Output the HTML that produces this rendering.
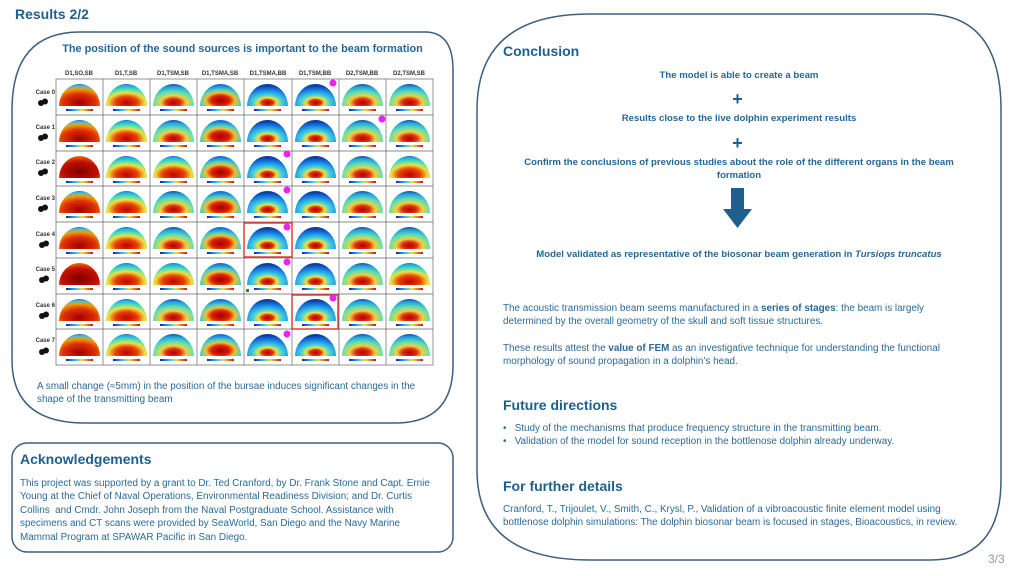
<!DOCTYPE html>
<html><head><meta charset="utf-8"><style>
body{margin:0;width:1023px;height:576px;background:#fff;position:relative;overflow:hidden;font-family:"Liberation Sans",sans-serif;color:#2a6a97}
.t{position:absolute;white-space:nowrap;font-size:9.9px;line-height:13.4px}
.h{position:absolute;white-space:nowrap;font-weight:bold;color:#1d5f8d}
.c{position:absolute;left:477px;width:524px;text-align:center;font-weight:bold;font-size:9.6px;color:#23689a;line-height:13px}
</style></head><body>
<svg width="1023" height="576" style="position:absolute;left:0;top:0">
<defs>
<linearGradient id="cb" x1="0" x2="1"><stop offset="0" stop-color="#1020c0"/><stop offset=".35" stop-color="#30c0f0"/><stop offset=".6" stop-color="#f0e040"/><stop offset="1" stop-color="#d01010"/></linearGradient>
<radialGradient id="rA" cx=".5" cy=".85" r=".9"><stop offset="0" stop-color="#a00000"/><stop offset=".45" stop-color="#e03000"/><stop offset=".7" stop-color="#f0a000"/><stop offset=".85" stop-color="#40c0e0"/><stop offset="1" stop-color="#1030a0"/></radialGradient>
<radialGradient id="rF" cx=".5" cy=".7" r=".9"><stop offset="0" stop-color="#800000"/><stop offset=".5" stop-color="#c01000"/><stop offset=".75" stop-color="#f06000"/><stop offset=".9" stop-color="#40c0e0"/><stop offset="1" stop-color="#1030a0"/></radialGradient>
<radialGradient id="rB" cx=".5" cy=".85" r=".9"><stop offset="0" stop-color="#c00000"/><stop offset=".3" stop-color="#e84000"/><stop offset=".5" stop-color="#f0e040"/><stop offset=".7" stop-color="#40e0c0"/><stop offset=".88" stop-color="#20a0e0"/><stop offset="1" stop-color="#1020a0"/></radialGradient>
<radialGradient id="rC" cx=".5" cy=".85" r=".9"><stop offset="0" stop-color="#b00000"/><stop offset=".2" stop-color="#e03010"/><stop offset=".35" stop-color="#f0d040"/><stop offset=".55" stop-color="#60e0b0"/><stop offset=".8" stop-color="#20a0e0"/><stop offset="1" stop-color="#102080"/></radialGradient>
<radialGradient id="rD" cx=".5" cy=".75" r=".9"><stop offset="0" stop-color="#a00000"/><stop offset=".25" stop-color="#e02000"/><stop offset=".4" stop-color="#f0c030"/><stop offset=".55" stop-color="#50d0c0"/><stop offset=".75" stop-color="#1080e0"/><stop offset="1" stop-color="#0a1a80"/></radialGradient>
<radialGradient id="rE" cx=".5" cy=".85" r=".9"><stop offset="0" stop-color="#b00000"/><stop offset=".15" stop-color="#e03000"/><stop offset=".25" stop-color="#f0e040"/><stop offset=".4" stop-color="#40d0e0"/><stop offset=".7" stop-color="#1070e0"/><stop offset="1" stop-color="#0a1570"/></radialGradient>
<g id="gA"><path d="M3,27 A20.5,22 0 0 1 44,27 Z" fill="url(#rA)"/><rect x="10" y="30" width="27" height="2" fill="url(#cb)"/></g>
<g id="gF"><path d="M3,27 A20.5,22 0 0 1 44,27 Z" fill="url(#rF)"/><rect x="10" y="30" width="27" height="2" fill="url(#cb)"/></g>
<g id="gB"><path d="M3,27 A20.5,22 0 0 1 44,27 Z" fill="url(#rB)"/><rect x="10" y="30" width="27" height="2" fill="url(#cb)"/></g>
<g id="gC"><path d="M3,27 A20.5,22 0 0 1 44,27 Z" fill="url(#rC)"/><rect x="10" y="30" width="27" height="2" fill="url(#cb)"/></g>
<g id="gD"><path d="M3,27 A20.5,22 0 0 1 44,27 Z" fill="url(#rD)"/><rect x="10" y="30" width="27" height="2" fill="url(#cb)"/></g>
<g id="gE"><path d="M3,27 A20.5,22 0 0 1 44,27 Z" fill="url(#rE)"/><rect x="10" y="30" width="27" height="2" fill="url(#cb)"/></g>
<g id="row"><use href="#gA" x="56"/><use href="#gB" x="103"/><use href="#gC" x="150"/><use href="#gD" x="197"/><use href="#gE" x="244"/><use href="#gE" x="292"/><use href="#gC" x="339"/><use href="#gC" x="386"/></g>
<g id="rowR"><use href="#gF" x="56"/><use href="#gB" x="103"/><use href="#gB" x="150"/><use href="#gD" x="197"/><use href="#gE" x="244"/><use href="#gE" x="292"/><use href="#gC" x="339"/><use href="#gB" x="386"/></g>
<g id="ic"><circle cx="0" cy="0" r="3" fill="#111"/><circle cx="4" cy="-1.5" r="3" fill="#111"/></g>
</defs>
<path d="M80,32 H425 Q453,32 453,70 V365 Q453,423 395,423 H85 Q12,423 12,360 V110 Q12,32 80,32 Z" fill="none" stroke="#3f5f7f" stroke-width="1.5"/>
<rect x="12" y="443" width="441" height="109" rx="15" fill="none" stroke="#3f5f7f" stroke-width="1.5"/>
<path d="M590,14 H925 Q1001,14 1001,110 V480 Q1001,560 930,560 H590 Q477,560 477,470 V110 Q477,14 590,14 Z" fill="none" stroke="#3f5f7f" stroke-width="1.5"/>
<use href="#row" y="79"/><use href="#row" y="115"/><use href="#rowR" y="151"/><use href="#row" y="186"/><use href="#row" y="222"/><use href="#rowR" y="258"/><use href="#row" y="294"/><use href="#row" y="329"/>
<g stroke="#666" stroke-width=".7" fill="none">
<rect x="56" y="79" width="377" height="286"/>
<path d="M103,79V365M150,79V365M197,79V365M244,79V365M292,79V365M339,79V365M386,79V365M56,115H433M56,151H433M56,186H433M56,222H433M56,258H433M56,294H433M56,329H433"/>
</g>
<g stroke="#e02020" stroke-width="1.3" fill="none"><rect x="244" y="223" width="48" height="34"/><rect x="292" y="295" width="46" height="34"/></g>
<rect x="246" y="289" width="3" height="3" fill="#2a8a2a"/>
<g fill="#f020f0"><circle cx="333" cy="83" r="3.5"/><circle cx="382" cy="119" r="3.5"/><circle cx="287" cy="154" r="3.5"/><circle cx="287" cy="190" r="3.5"/><circle cx="287" cy="227" r="3.5"/><circle cx="287" cy="262" r="3.5"/><circle cx="333" cy="298" r="3.5"/><circle cx="287" cy="334" r="3.5"/></g>
<g font-family="Liberation Sans" font-weight="bold" font-size="6" fill="#333" text-anchor="middle">
<text x="79" y="75">D1,SO,SB</text><text x="126" y="75">D1,T,SB</text><text x="173" y="75">D1,TSM,SB</text><text x="220" y="75">D1,TSMA,SB</text><text x="268" y="75">D1,TSMA,BB</text><text x="315" y="75">D1,TSM,BB</text><text x="362" y="75">D2,TSM,BB</text><text x="409" y="75">D2,TSM,SB</text>
</g>
<g font-family="Liberation Sans" font-weight="bold" font-size="6" fill="#333" text-anchor="end">
<text x="55" y="94">Case 0</text><text x="55" y="129">Case 1</text><text x="55" y="164">Case 2</text><text x="55" y="200">Case 3</text><text x="55" y="236">Case 4</text><text x="55" y="271">Case 5</text><text x="55" y="307">Case 6</text><text x="55" y="342">Case 7</text>
</g>
<use href="#ic" x="41" y="103"/><use href="#ic" x="41" y="138"/><use href="#ic" x="41" y="173"/><use href="#ic" x="41" y="209"/><use href="#ic" x="42" y="245"/><use href="#ic" x="42" y="280"/><use href="#ic" x="42" y="316"/><use href="#ic" x="42" y="352"/>
<path d="M731,188 H744 V209 H752 L737.5,228 L723,209 H731 Z" fill="#1d5f8d"/>
<text x="737.5" y="105" text-anchor="middle" font-family="Liberation Sans" font-weight="bold" font-size="18" fill="#1d5f8d">+</text>
<text x="737.5" y="149" text-anchor="middle" font-family="Liberation Sans" font-weight="bold" font-size="18" fill="#1d5f8d">+</text>
</svg>
<div class="h" style="left:15px;top:6px;font-size:14px">Results 2/2</div>
<div class="h" style="left:12px;width:461px;text-align:center;top:43px;font-size:10.9px;color:#23689a">The position of the sound sources is important to the beam formation</div>
<div class="t" style="left:37px;top:380px">A small change (≈5mm) in the position of the bursae induces significant changes in the<br>shape of the transmitting beam</div>
<div class="h" style="left:20px;top:451px;font-size:14px">Acknowledgements</div>
<div class="t" style="left:20px;top:477px">This project was supported by a grant to Dr. Ted Cranford, by Dr. Frank Stone and Capt. Ernie<br>Young at the Chief of Naval Operations, Environmental Readiness Division; and Dr. Curtis<br>Collins &nbsp;and Cmdr. John Joseph from the Naval Postgraduate School. Assistance with<br>specimens and CT scans were provided by SeaWorld, San Diego and the Navy Marine<br>Mammal Program at SPAWAR Pacific in San Diego.</div>
<div class="h" style="left:503px;top:43px;font-size:14px">Conclusion</div>
<div class="c" style="top:69px">The model is able to create a beam</div>
<div class="c" style="top:112px">Results close to the live dolphin experiment results</div>
<div class="c" style="top:156px">Confirm the conclusions of previous studies about the role of the different organs in the beam<br>formation</div>
<div class="c" style="top:248px">Model validated as representative of the biosonar beam generation in <i>Tursiops truncatus</i></div>
<div class="t" style="left:503px;top:302px">The acoustic transmission beam seems manufactured in a <b>series of stages</b>: the beam is largely<br>determined by the overall geometry of the skull and soft tissue structures.</div>
<div class="t" style="left:503px;top:342px">These results attest the <b>value of FEM</b> as an investigative technique for understanding the functional<br>morphology of sound propagation in a dolphin’s head.</div>
<div class="h" style="left:503px;top:397px;font-size:14px">Future directions</div>
<div class="t" style="left:503px;top:422px">•&nbsp;&nbsp; Study of the mechanisms that produce frequency structure in the transmitting beam.<br>•&nbsp;&nbsp; Validation of the model for sound reception in the bottlenose dolphin already underway.</div>
<div class="h" style="left:503px;top:478px;font-size:14px">For further details</div>
<div class="t" style="left:503px;top:503px">Cranford, T., Trijoulet, V., Smith, C., Krysl, P., Validation of a vibroacoustic finite element model using<br>bottlenose dolphin simulations: The dolphin biosonar beam is focused in stages, Bioacoustics, in review.</div>
<div class="t" style="left:988px;top:553px;font-size:12px;color:#999">3/3</div>
</body></html>
